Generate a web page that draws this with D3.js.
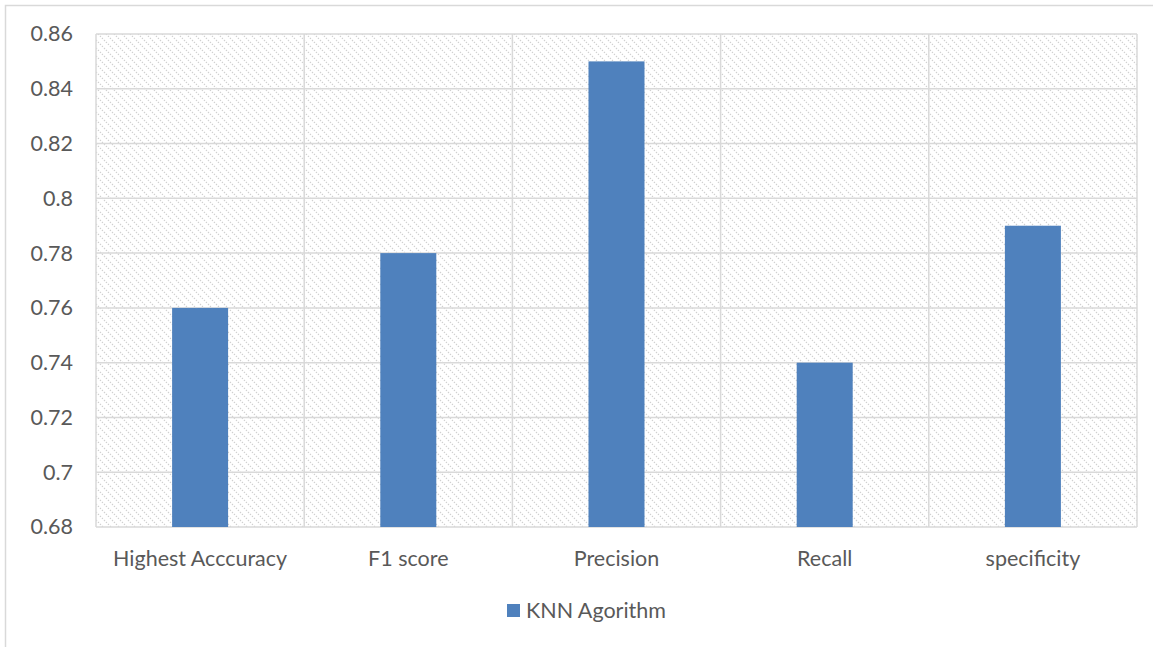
<!DOCTYPE html>
<html>
<head>
<meta charset="utf-8">
<script src="https://cdn.jsdelivr.net/npm/d3@7"></script>
<style>
  html, body { margin: 0; padding: 0; background: #fff; }
  svg { display: block; }
  text { font-family: Lato, "Open Sans", sans-serif; fill: #595959; }
</style>
</head>
<body>
<svg id="chart" width="1153" height="647"></svg>
<script>
// Metrics for the KNN classifier
const categories = ["Highest Acccuracy", "F1 score", "Precision", "Recall", "specificity"];
const values = [0.76, 0.78, 0.85, 0.74, 0.79];
const yTicks = [0.68, 0.7, 0.72, 0.74, 0.76, 0.78, 0.8, 0.82, 0.84, 0.86];
const seriesName = "KNN Agorithm";

const W = 1153, H = 647;
const FONT = "21.5px";
const svg = d3.select("#chart");

// Outer chart frame
svg.append("rect")
  .attr("x", 5.5).attr("y", 5.5)
  .attr("width", W + 10).attr("height", H + 10)
  .attr("fill", "none").attr("stroke", "#d9d9d9").attr("stroke-width", 1.5);

// Diagonal dotted hatch used as the plot background
const defs = svg.append("defs");
const pat = defs.append("pattern")
  .attr("id", "hatch").attr("patternUnits", "userSpaceOnUse")
  .attr("width", 8).attr("height", 8);
pat.append("path")
  .attr("d", "M-2,-2 L10,10 M-2,6 L2,10 M6,-2 L10,2")
  .attr("stroke", "#cfcfcf").attr("stroke-width", 1.2)
  .attr("stroke-dasharray", "1.4,1.4");

const x0 = 96, x1 = 1137;
const y0 = 527, y1 = 34;

const x = d3.scaleBand().domain(categories).range([x0, x1]).paddingInner(0).paddingOuter(0);
const y = d3.scaleLinear().domain([0.68, 0.86]).range([y0, y1]);

svg.append("rect")
  .attr("x", x0).attr("y", y1)
  .attr("width", x1 - x0).attr("height", y0 - y1)
  .attr("fill", "url(#hatch)");

// Horizontal gridlines
svg.append("g").selectAll("line").data(yTicks).join("line")
  .attr("x1", x0).attr("x2", x1)
  .attr("y1", d => y(d)).attr("y2", d => y(d))
  .attr("stroke", "#d9d9d9").attr("stroke-width", 1.5);

// Vertical gridlines at category boundaries
const bounds = categories.map(c => x(c)).concat([x1]);
svg.append("g").selectAll("line").data(bounds).join("line")
  .attr("x1", d => d).attr("x2", d => d)
  .attr("y1", y1).attr("y2", y0)
  .attr("stroke", "#d9d9d9").attr("stroke-width", 1.5);

// Bars
const barW = 56;
svg.append("g").selectAll("rect").data(values).join("rect")
  .attr("x", (d, i) => x(categories[i]) + x.bandwidth() / 2 - barW / 2)
  .attr("y", d => y(d))
  .attr("width", barW)
  .attr("height", d => y0 - y(d))
  .attr("fill", "#4f81bd");

// Y axis labels
const yAxis = d3.axisLeft(y).tickValues(yTicks).tickSize(0).tickPadding(23)
  .tickFormat(d => d3.format("")(+d.toFixed(2)));
const gy = svg.append("g").attr("transform", `translate(${x0},0)`).call(yAxis);
gy.select(".domain").remove();
gy.selectAll("text").style("font-size", FONT).attr("fill", "#595959")
  .style("font-family", "Lato, 'Open Sans', sans-serif");

// X axis labels
const xAxis = d3.axisBottom(x).tickSize(0).tickPadding(24);
const gx = svg.append("g").attr("transform", `translate(0,${y0})`).call(xAxis);
gx.select(".domain").remove();
gx.selectAll("text").style("font-size", FONT).attr("fill", "#595959")
  .style("font-family", "Lato, 'Open Sans', sans-serif");

// Legend
const lg = svg.append("g").attr("transform", "translate(507,604)");
lg.append("rect").attr("width", 13).attr("height", 13).attr("fill", "#4f81bd");
lg.append("text").attr("x", 19).attr("y", 6.5).attr("dy", "0.35em")
  .style("font-size", FONT).text(seriesName);
</script>
</body>
</html>
